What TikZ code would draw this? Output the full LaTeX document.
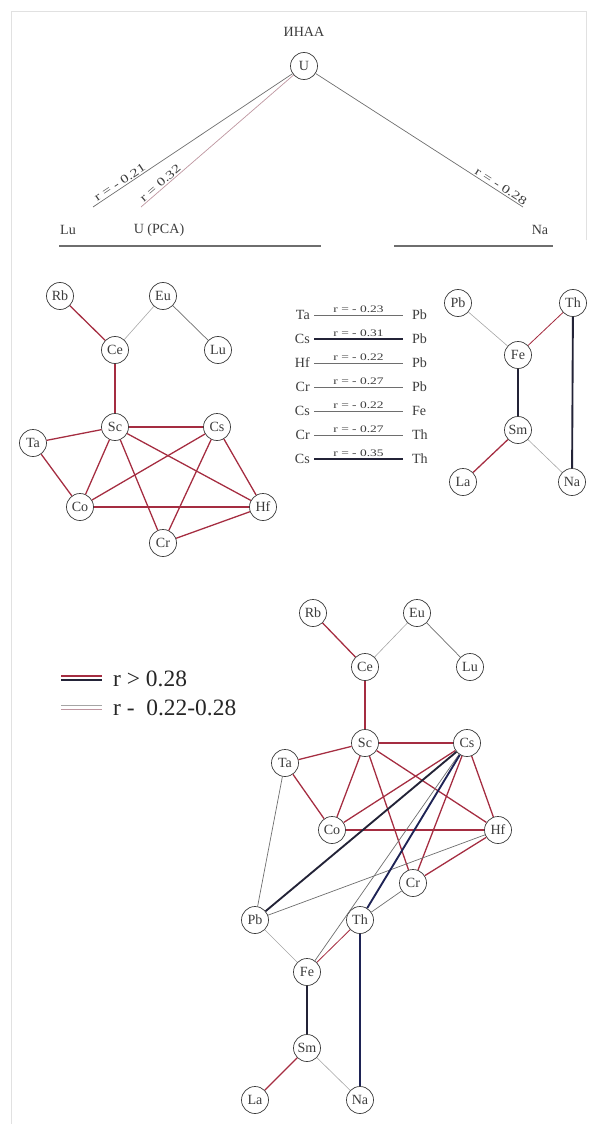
\documentclass[tikz,border=0pt]{standalone}
\usepackage{fontspec}
\setmainfont{Liberation Serif}
\newfontfamily\widefont[FakeStretch=1.35]{Liberation Serif}
\usepackage{tikz}
\usetikzlibrary{positioning}
\definecolor{corrred}{RGB}{165, 45, 65}
\definecolor{corrdark}{RGB}{35, 35, 55}
\definecolor{corrnavy}{RGB}{30, 35, 85}
\definecolor{corrgray}{RGB}{110, 110, 110}
\definecolor{palegray}{RGB}{165, 165, 165}
\definecolor{pinkgray}{RGB}{190, 150, 160}
\definecolor{framegray}{RGB}{225, 225, 225}
\definecolor{inkgray}{RGB}{60, 60, 60}

\begin{document}
\begin{tikzpicture}[
				x=0.03cm, y=-0.03cm,
				el/.style={circle, draw=inkgray, fill=white, line width=0.6pt, text=inkgray,
					minimum size=0.81cm, inner sep=0pt, font=\fontsize{12}{14}\selectfont},
				txt/.style={inner sep=1pt, text=inkgray, font=\fontsize{12}{14}\selectfont},
				lefttxt/.style={anchor=east, inner xsep=3.4pt, text=inkgray, font=\fontsize{12}{14}\selectfont},
				righttxt/.style={anchor=west, inner xsep=7.5pt, text=inkgray, font=\fontsize{12}{14}\selectfont},
				rlab/.style={sloped, above, inner sep=1pt, text=inkgray, font=\widefont\fontsize{10}{11}\selectfont},
				rowlab/.style={midway, above, inner sep=1.5pt, text=inkgray, font=\widefont\fontsize{8.5}{10}\selectfont},
				legtxt/.style={anchor=west, inner sep=0pt, text=black!85, font=\fontsize{20}{24}\selectfont},
				redl/.style={corrred, line width=1.1pt},
				grayl/.style={corrgray, line width=0.6pt},
				paleline/.style={palegray, line width=0.5pt},
				darkl/.style={corrdark, line width=1.6pt},
				navyl/.style={corrnavy, line width=1.6pt},
				rulel/.style={corrgray, line width=1pt}
				]
				\useasboundingbox (0,0) rectangle (597,1124);
				\draw[framegray, line width=0.5pt] (11,1124) -- (11,11) -- (586,11) -- (586,240);
				% ИНАА
				\node[txt] (inaa) at (304,32) {ИНАА};
				\node[el] (u) at (304,66) {U};
				\node[txt] (lu0) at (68,230) {Lu};
				\node[txt] (pca) at (159,230) {U (PCA)};
				\node[txt] (na0) at (540,230) {Na};
				\coordinate (luend) at (93,207);
				\coordinate (pcaend) at (141,207);
				\coordinate (naend) at (523,207);
				\draw[grayl] (u) -- node[rlab, pos=0.85] {r = - 0.21} (luend);
				\draw[pinkgray, line width=0.6pt] (u) -- node[rlab, pos=0.85] {r = 0.32} (pcaend);
				\draw[grayl] (naend) -- node[rlab, pos=0.12] {r = - 0.28} (u);
				\coordinate (ru1) at (59,246);
				\coordinate (ru2) at (321,246);
				\coordinate (ru3) at (394,246);
				\coordinate (ru4) at (553,246);
				\draw[rulel] (ru1) -- (ru2);
				\draw[rulel] (ru3) -- (ru4);
				% left graph
				\node[el] (rb1) at (60,296)  {Rb};
				\node[el] (eu1) at (163,296) {Eu};
				\node[el] (ce1) at (115,350) {Ce};
				\node[el] (lu1) at (218,350) {Lu};
				\node[el] (sc1) at (115,427) {Sc};
				\node[el] (cs1) at (217,427) {Cs};
				\node[el] (ta1) at (33,443)  {Ta};
				\node[el] (co1) at (80,507)  {Co};
				\node[el] (hf1) at (263,507) {Hf};
				\node[el] (cr1) at (163,543) {Cr};
				\draw[redl]  (rb1) -- (ce1);
				\draw[paleline] (eu1) -- (ce1);
				\draw[grayl] (eu1) -- (lu1);
				\draw[redl]  (ce1) -- (sc1);
				\draw[redl]  (sc1) -- (ta1);
				\draw[redl]  (sc1) -- (cs1);
				\draw[redl]  (sc1) -- (co1);
				\draw[redl]  (sc1) -- (cr1);
				\draw[redl]  (sc1) -- (hf1);
				\draw[redl]  (ta1) -- (co1);
				\draw[redl]  (cs1) -- (co1);
				\draw[redl]  (cs1) -- (cr1);
				\draw[redl]  (cs1) -- (hf1);
				\draw[redl]  (co1) -- (hf1);
				\draw[redl]  (cr1) -- (hf1);
				% pairs
				\node[lefttxt]  (ta2)  at (314,315) {Ta};
				\node[righttxt] (pb2a) at (403,315) {Pb};
				\node[lefttxt]  (cs2a) at (314,339) {Cs};
				\node[righttxt] (pb2b) at (403,339) {Pb};
				\node[lefttxt]  (hf2)  at (314,363) {Hf};
				\node[righttxt] (pb2c) at (403,363) {Pb};
				\node[lefttxt]  (cr2a) at (314,387) {Cr};
				\node[righttxt] (pb2d) at (403,387) {Pb};
				\node[lefttxt]  (cs2b) at (314,411) {Cs};
				\node[righttxt] (fe2)  at (403,411) {Fe};
				\node[lefttxt]  (cr2b) at (314,435) {Cr};
				\node[righttxt] (th2a) at (403,435) {Th};
				\node[lefttxt]  (cs2c) at (314,459) {Cs};
				\node[righttxt] (th2b) at (403,459) {Th};
				\draw[grayl] (ta2)  -- node[rowlab] {r = - 0.23} (pb2a);
				\draw[darkl] (cs2a) -- node[rowlab] {r = - 0.31} (pb2b);
				\draw[grayl] (hf2)  -- node[rowlab] {r = - 0.22} (pb2c);
				\draw[grayl] (cr2a) -- node[rowlab] {r = - 0.27} (pb2d);
				\draw[grayl] (cs2b) -- node[rowlab] {r = - 0.22} (fe2);
				\draw[grayl] (cr2b) -- node[rowlab] {r = - 0.27} (th2a);
				\draw[darkl] (cs2c) -- node[rowlab] {r = - 0.35} (th2b);
				% right graph
				\node[el] (pb3) at (458,303) {Pb};
				\node[el] (th3) at (573,303) {Th};
				\node[el] (fe3) at (518,355) {Fe};
				\node[el] (sm3) at (518,430) {Sm};
				\node[el] (la3) at (463,482) {La};
				\node[el] (na3) at (572,482) {Na};
				\draw[paleline] (pb3) -- (fe3);
				\draw[corrred, line width=0.7pt] (fe3) -- (th3);
				\draw[darkl] (fe3) -- (sm3);
				\draw[redl]  (sm3) -- (la3);
				\draw[paleline] (sm3) -- (na3);
				\draw[darkl] (th3) -- (na3);
				% legend
				\coordinate (k1a) at (61,676);
				\coordinate (k1b) at (102,676);
				\coordinate (k1c) at (61,680);
				\coordinate (k1d) at (102,680);
				\coordinate (k2a) at (61,705);
				\coordinate (k2b) at (102,705);
				\coordinate (k2c) at (61,709);
				\coordinate (k2d) at (102,709);
				\draw[corrred, line width=1.2pt] (k1a) -- (k1b);
				\draw[corrdark, line width=1.2pt] (k1c) -- (k1d);
				\draw[palegray, line width=0.8pt] (k2a) -- (k2b);
				\draw[pinkgray, line width=0.8pt] (k2c) -- (k2d);
				\node[legtxt] (leg1) at (113,679) {r > 0.28};
				\node[legtxt] (leg2) at (113,708) {r -\ \ 0.22-0.28};
				% bottom graph
				\node[el] (rb4) at (313,613)  {Rb};
				\node[el] (eu4) at (417,613)  {Eu};
				\node[el] (ce4) at (365,667)  {Ce};
				\node[el] (lu4) at (470,667)  {Lu};
				\node[el] (sc4) at (365,743)  {Sc};
				\node[el] (cs4) at (467,743)  {Cs};
				\node[el] (ta4) at (285,763)  {Ta};
				\node[el] (co4) at (332,830)  {Co};
				\node[el] (hf4) at (498,830)  {Hf};
				\node[el] (cr4) at (413,883)  {Cr};
				\node[el] (pb4) at (255,920)  {Pb};
				\node[el] (th4) at (360,920)  {Th};
				\node[el] (fe4) at (307,972)  {Fe};
				\node[el] (sm4) at (307,1048) {Sm};
				\node[el] (la4) at (255,1100) {La};
				\node[el] (na4) at (360,1100) {Na};
				\draw[redl]  (rb4) -- (ce4);
				\draw[paleline] (eu4) -- (ce4);
				\draw[grayl] (eu4) -- (lu4);
				\draw[redl]  (ce4) -- (sc4);
				\draw[redl]  (sc4) -- (ta4);
				\draw[redl]  (sc4) -- (cs4);
				\draw[redl]  (sc4) -- (co4);
				\draw[redl]  (sc4) -- (cr4);
				\draw[redl]  (sc4) -- (hf4);
				\draw[redl]  (ta4) -- (co4);
				\draw[redl]  (cs4) -- (co4);
				\draw[redl]  (cs4) -- (cr4);
				\draw[redl]  (cs4) -- (hf4);
				\draw[redl]  (co4) -- (hf4);
				\draw[redl]  (cr4) -- (hf4);
				\draw[grayl] (ta4) -- (pb4);
				\draw[darkl] (cs4) -- (pb4);
				\draw[grayl] (hf4) -- (pb4);
				\draw[grayl] (cs4) -- (fe4);
				\draw[grayl] (cr4) -- (th4);
				\draw[navyl] (cs4) -- (th4);
				\draw[paleline] (pb4) -- (fe4);
				\draw[corrred, line width=0.7pt] (fe4) -- (th4);
				\draw[darkl] (fe4) -- (sm4);
				\draw[redl]  (sm4) -- (la4);
				\draw[paleline] (sm4) -- (na4);
				\draw[navyl] (th4) -- (na4);
			\end{tikzpicture}
\end{document}
